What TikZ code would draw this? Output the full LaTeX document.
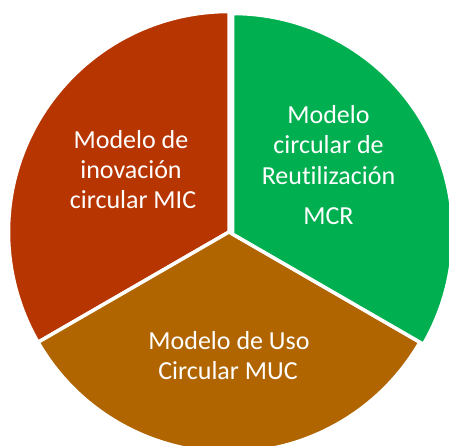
\documentclass[tikz,border=0pt]{standalone}
\usepackage{fontspec}
\setmainfont{Carlito}[Ligatures=NoCommon]
\definecolor{cred}{RGB}{183,53,0}
\definecolor{cgreen}{RGB}{0,176,80}
\definecolor{corange}{RGB}{176,101,0}
\begin{document}
\begin{tikzpicture}[x=1pt,y=1pt,
  slice/.style={draw=white,line width=3.5pt,line join=miter},
  lbl/.style={text=white,anchor=base,inner sep=0pt,font=\fontsize{26}{30}\selectfont}]
\useasboundingbox (0,0) rectangle (449,445);
\clip (0,0) rectangle (449,445);
\coordinate (c) at (229,213);
\coordinate (cg) at (232.5,211);
\draw[slice,fill=cred] (c) -- ++(90:220.5) arc[start angle=90,end angle=210,radius=220.5] -- cycle;
\draw[slice,fill=corange] (c) -- ++(210:220.5) arc[start angle=210,end angle=330,radius=220.5] -- cycle;
\draw[slice,fill=cgreen] (cg) -- ++(-30:220.5) arc[start angle=-30,end angle=90,radius=220.5] -- cycle;
% red labels
\node[lbl] (r1) at (131,296) {Modelo de};
\node[lbl] (r2) at (131,267) {inovación};
\node[lbl] (r3) at (133,237) {circular MIC};
% green labels
\node[lbl] (g1) at (328.5,321) {Modelo};
\node[lbl] (g2) at (328.5,291) {circular de};
\node[lbl] (g3) at (328.5,261) {Reutilización};
\node[lbl] (g4) at (328.5,221) {MCR};
% orange labels
\node[lbl] (o1) at (229,96) {Modelo de Uso};
\node[lbl] (o2) at (228,66) {Circular MUC};
\end{tikzpicture}
\end{document}
